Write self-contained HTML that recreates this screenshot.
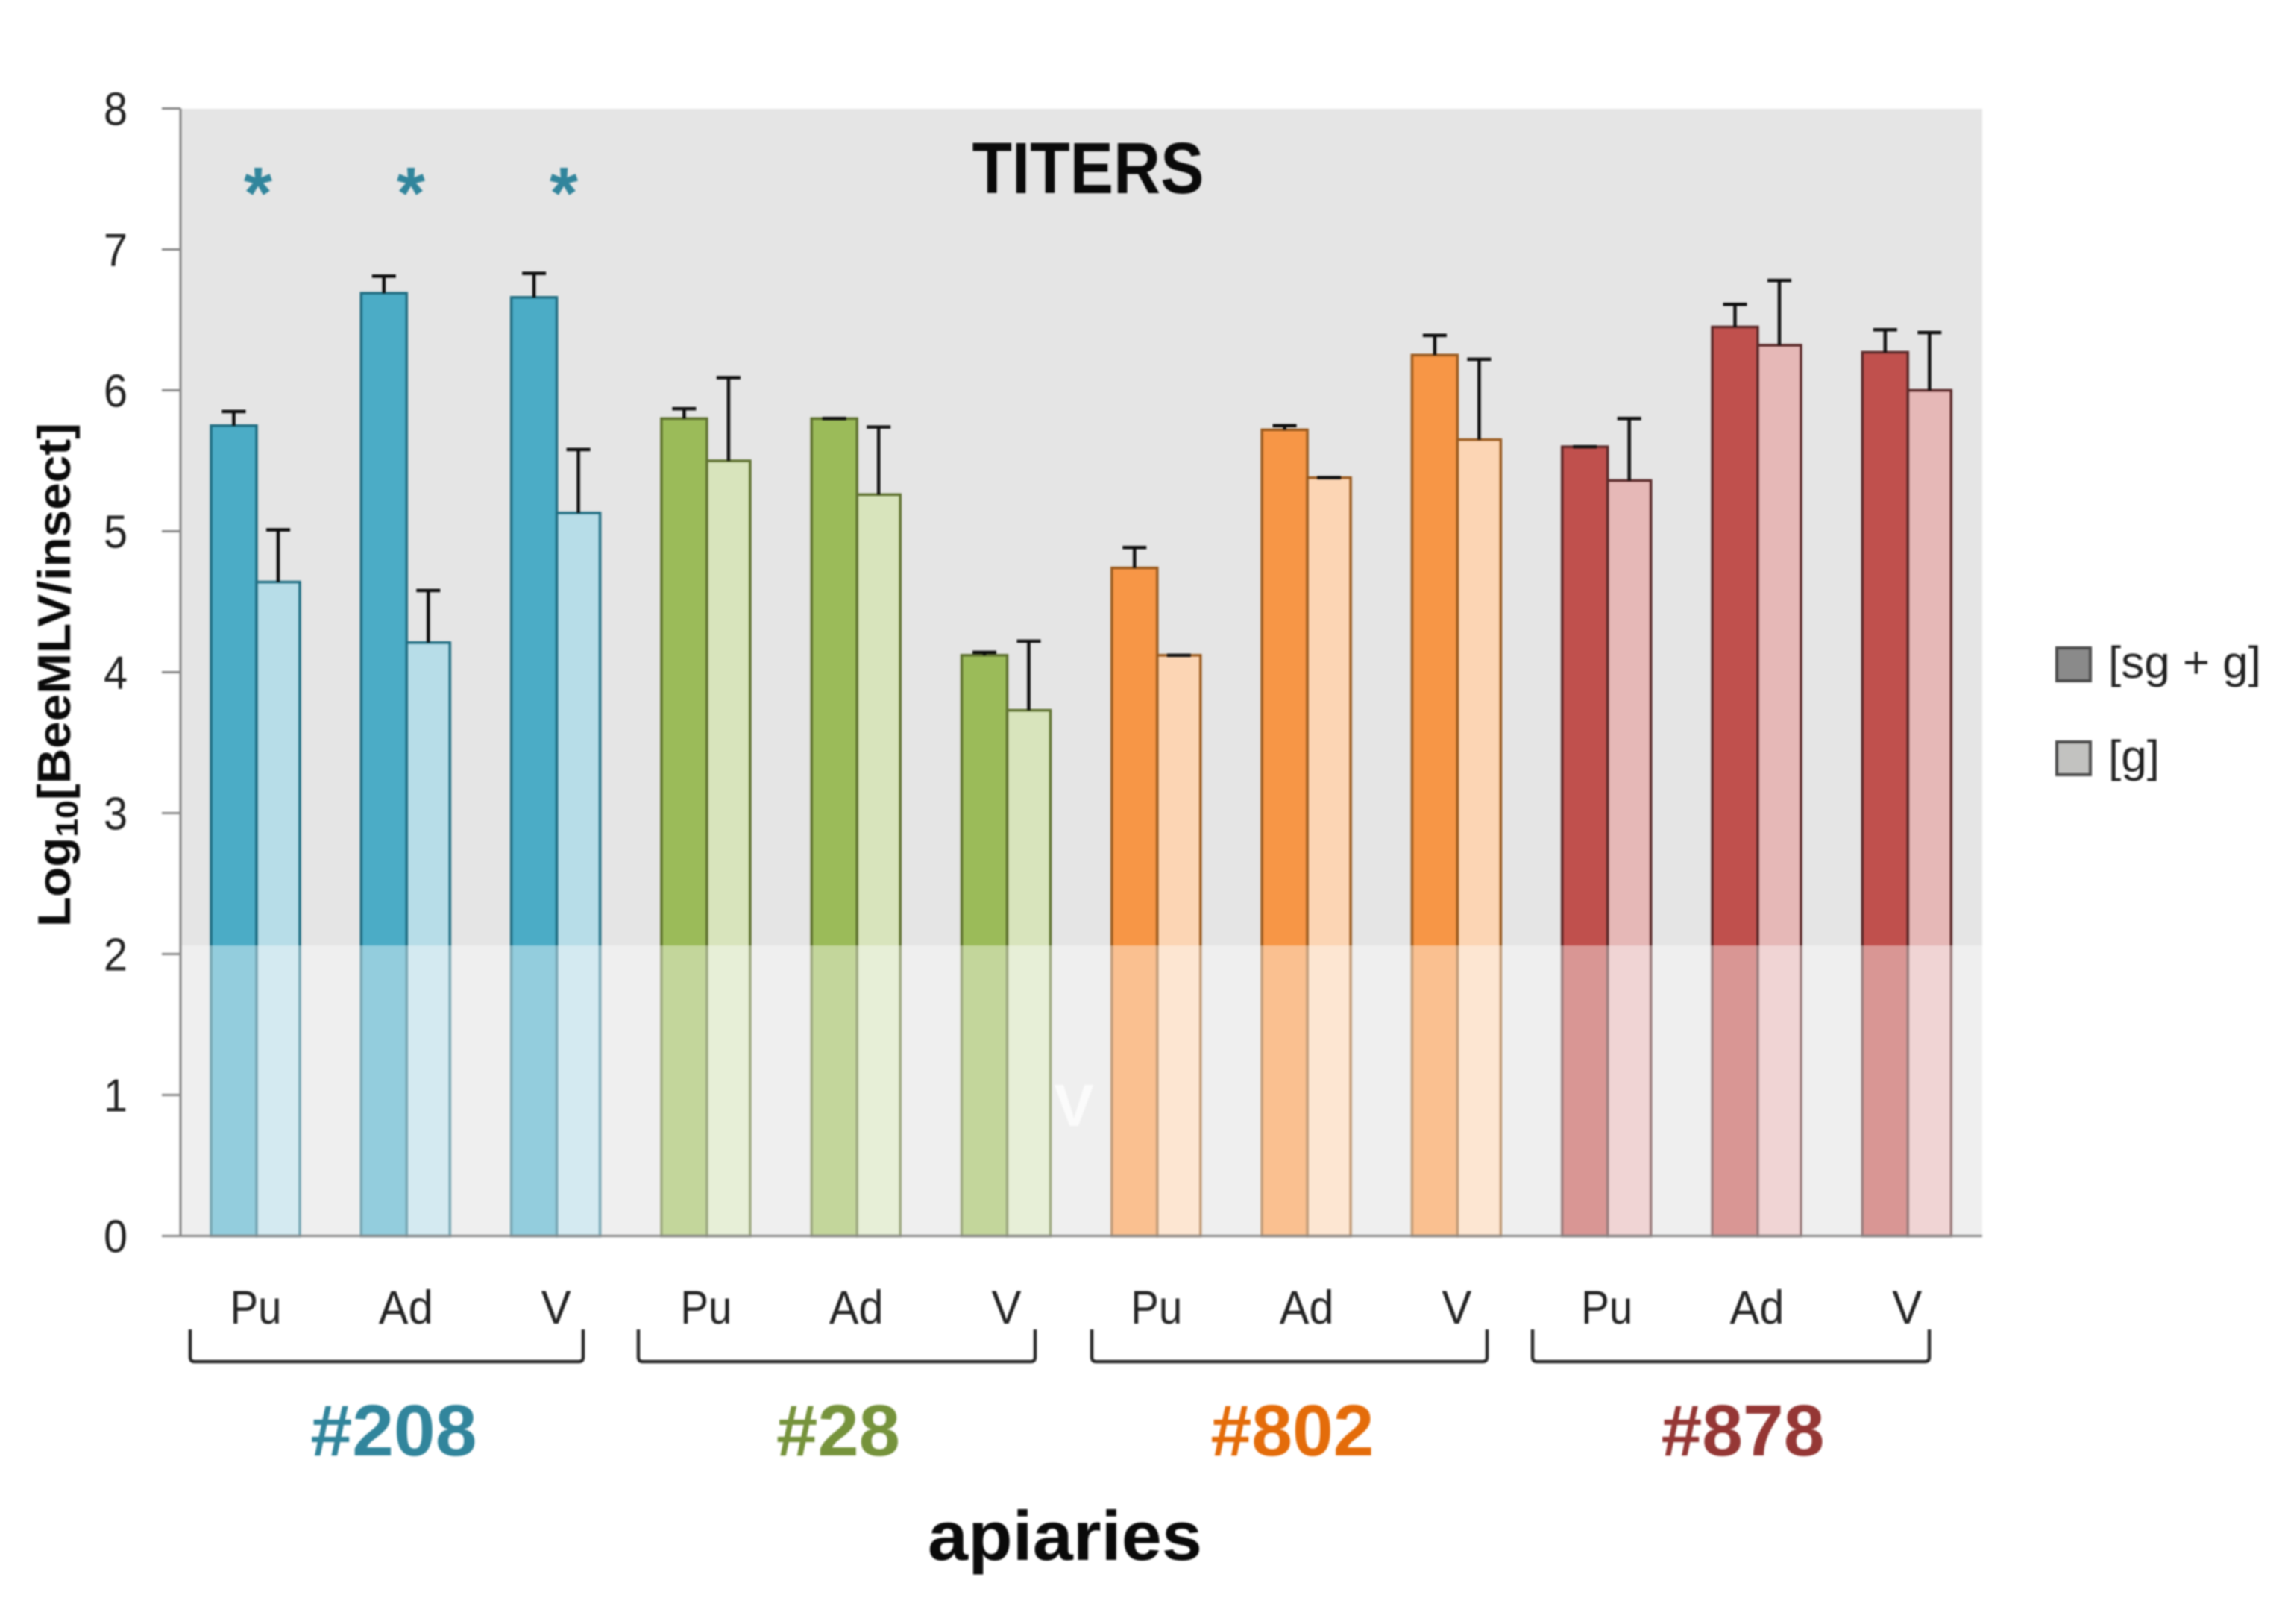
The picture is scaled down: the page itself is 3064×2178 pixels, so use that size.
<!DOCTYPE html>
<html lang="en">
<head>
<meta charset="utf-8">
<title>Titers chart</title>
<style>
html,body{margin:0;padding:0;background:#fff;}
svg{display:block;filter:blur(1px);font-family:"Liberation Sans",sans-serif;}
</style>
</head>
<body>
<svg id="chart" xmlns="http://www.w3.org/2000/svg" width="3064" height="2178" viewBox="0 0 3064 2178">
  <rect x="0" y="0" width="3064" height="2178" fill="#ffffff"/>
  <rect x="242" y="146" width="2416" height="1511" fill="#e5e5e5"/>
  <g id="bars"></g>
  <rect x="242" y="1268" width="2416" height="389" fill="#ffffff" fill-opacity="0.4"/>
  <g id="errors"></g>
  <g id="axes"></g>
  <text x="1459" y="259" text-anchor="middle" font-size="97" font-weight="bold" fill="#0a0a0a" textLength="311" lengthAdjust="spacingAndGlyphs">TITERS</text>
  <text x="1440" y="1510" text-anchor="middle" font-size="80" font-weight="bold" fill="#fbfbfb">V</text>
  <text transform="translate(94,1243) rotate(-90)" font-size="62" font-weight="bold" fill="#0a0a0a" textLength="676" lengthAdjust="spacingAndGlyphs">Log<tspan dy="10" font-size="42">10</tspan><tspan dy="-10">[BeeMLV/insect]</tspan></text>
  <text x="1428" y="2092" text-anchor="middle" font-size="94" font-weight="bold" fill="#0a0a0a" textLength="368" lengthAdjust="spacingAndGlyphs">apiaries</text>
  <g>
    <rect x="2758" y="869" width="45" height="44" fill="#8a8a8a" stroke="#4a4a4a" stroke-width="4"/>
    <text x="2827" y="909" font-size="60" fill="#222222" textLength="205" lengthAdjust="spacingAndGlyphs">[sg + g]</text>
    <rect x="2758" y="995" width="45" height="44" fill="#c2c2c0" stroke="#4a4a4a" stroke-width="4"/>
    <text x="2827" y="1035" font-size="60" fill="#222222" textLength="69" lengthAdjust="spacingAndGlyphs">[g]</text>
  </g>
</svg>
<script>
const stages = ['Pu','Ad','V','Pu','Ad','V','Pu','Ad','V','Pu','Ad','V'];
const sgValues = [5.75,6.69,6.66,5.80,5.80,4.12,4.74,5.72,6.25,5.60,6.45,6.27];
const sgErrors = [0.10,0.12,0.17,0.07,0.00,0.02,0.145,0.03,0.14,0.00,0.16,0.16];
const gValues = [4.64,4.21,5.13,5.50,5.26,3.73,4.12,5.38,5.65,5.36,6.32,6.00];
const gErrors = [0.37,0.37,0.45,0.59,0.48,0.49,0.00,0.00,0.57,0.44,0.46,0.41];
const yTicks = [0,1,2,3,4,5,6,7,8];
const apiaries = ['#208','#28','#802','#878'];
const apiaryStages = [3,3,3,3];
const starred = [0,1,2];

const NS = 'http://www.w3.org/2000/svg';
const sgFill = ['#4bacc6','#9bbb59','#f79646','#c0504d'];
const gFill = ['#b7dde8','#d8e4bc','#fcd5b4','#e6b8b7'];
const barStroke = ['#1f6d82','#5f7230','#9a5a1e','#5a2828'];
const labelFill = ['#31859c','#76933c','#e46c0a','#953735'];
const bracketX = [[255,782],[856,1388],[1464,1994],[2055,2587]];
const groupLabelX = [528,1124,1733,2337];
const groupLabelW = [223,166,219,219];
const stageLabelW = {Pu:69, Ad:73, V:40};
const SG_W = 61;
const G_W = 58;

function yScale(v){ return 1657.5 - 189 * v; }
function xCat(i){ return 283 + 201.3 * i; }
function el(parent, tag, attrs, text){
  const n = document.createElementNS(NS, tag);
  for (const k in attrs) n.setAttribute(k, attrs[k]);
  if (text !== undefined) n.textContent = text;
  parent.appendChild(n);
  return n;
}
function groupOf(i){
  let acc = 0;
  for (let g = 0; g < apiaryStages.length; g++){
    acc += apiaryStages[g];
    if (i < acc) return g;
  }
  return apiaryStages.length - 1;
}

const barsG = document.getElementById('bars');
const errG = document.getElementById('errors');
const axesG = document.getElementById('axes');

function errorBar(cx, value, err, key){
  const g = el(errG, 'g', {stroke:'#0c0c0c', 'stroke-width':4.5});
  
  
  el(g, 'line', {x1:cx, x2:cx, y1:yScale(value), y2:yScale(value + err)});
  el(g, 'line', {x1:cx-16, x2:cx+16, y1:yScale(value + err), y2:yScale(value + err)});
}

stages.forEach(function(stage, i){
  const g = groupOf(i);
  const x = xCat(i);
  const sg = el(barsG, 'rect', {x:x, y:yScale(sgValues[i]), width:SG_W, height:yScale(0)-yScale(sgValues[i]), fill:sgFill[g], stroke:barStroke[g], 'stroke-width':3.5});
  
  
  const gb = el(barsG, 'rect', {x:x+SG_W, y:yScale(gValues[i]), width:G_W, height:yScale(0)-yScale(gValues[i]), fill:gFill[g], stroke:barStroke[g], 'stroke-width':3.5});
  
  
  errorBar(x + SG_W/2, sgValues[i], sgErrors[i], 'sg-g-' + i);
  errorBar(x + SG_W + G_W/2, gValues[i], gErrors[i], 'g-' + i);

  const lbl = el(axesG, 'text', {x:x+60, y:1775, 'text-anchor':'middle', 'font-size':63, fill:'#222222', textLength:stageLabelW[stage], lengthAdjust:'spacingAndGlyphs'}, stage);
  
  
});

const yLine = el(axesG, 'path', {d:'M242 '+yScale(8)+' V'+yScale(0)+' H2658', fill:'none', stroke:'#868686', 'stroke-width':3});



yTicks.forEach(function(t){
  const tick = el(axesG, 'line', {x1:217, x2:242, y1:yScale(t), y2:yScale(t), stroke:'#868686', 'stroke-width':3});
  
  
  const lab = el(axesG, 'text', {x:155, y:yScale(t)+22, 'text-anchor':'middle', 'font-size':62, fill:'#222222', textLength:32, lengthAdjust:'spacingAndGlyphs'}, String(t));
  
  
});

apiaries.forEach(function(name, g){
  const b = bracketX[g];
  const br = el(axesG, 'path', {d:'M'+b[0]+' 1783 V1820 Q'+b[0]+' 1826 '+(b[0]+6)+' 1826 H'+(b[1]-6)+' Q'+b[1]+' 1826 '+b[1]+' 1820 V1783', fill:'none', stroke:'#2a2a2a', 'stroke-width':4.5});
  
  
  const t = el(axesG, 'text', {x:groupLabelX[g], y:1952, 'text-anchor':'middle', 'font-size':97, 'font-weight':'bold', fill:labelFill[g], textLength:groupLabelW[g], lengthAdjust:'spacingAndGlyphs'}, name);
  
  
});

starred.forEach(function(i){
  const s = el(axesG, 'text', {x:xCat(i)+63+3.7*i, y:293, 'text-anchor':'middle', 'font-size':98, 'font-weight':'bold', fill:'#31859c'}, '*');
  
  
});
</script>
</body>
</html>
